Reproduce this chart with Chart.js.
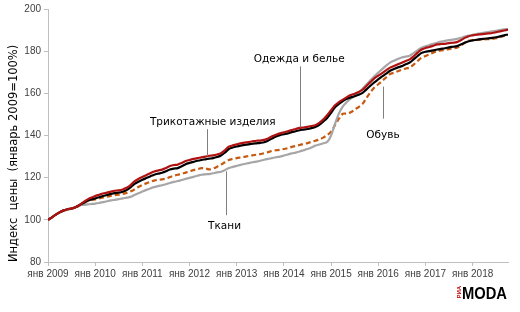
<!DOCTYPE html>
<html lang="ru">
<head>
<meta charset="utf-8">
<script src="https://cdn.jsdelivr.net/npm/chart.js@4/dist/chart.umd.min.js"></script>
<style>
  html, body { margin: 0; padding: 0; background: #ffffff; }
  #wrap { width: 520px; height: 312px; }
</style>
</head>
<body>
<div id="wrap"><canvas id="myChart" width="520" height="312"></canvas></div>
<script>
"use strict";

/* ****************************************************************************
    DATA (monthly index, Jan 2009 = 100, Jan 2009 .. Oct 2018)
**************************************************************************** */
var yearLabels = ["янв 2009", "янв 2010", "янв 2011", "янв 2012", "янв 2013",
  "янв 2014", "янв 2015", "янв 2016", "янв 2017", "янв 2018"];
var yTicks = [80, 100, 120, 140, 160, 180, 200];

// Одежда и белье (dark red)
var clothing = [
  100, 101.2, 102.5, 103.6, 104.5, 105.0, 105.4, 106.0, 107.0, 108.4, 109.6, 110.5,
  111.3, 111.9, 112.5, 112.9, 113.4, 113.8, 114.0, 114.4, 115.2, 116.5, 118.3, 119.4,
  120.3, 121.2, 122.1, 122.9, 123.4, 123.8, 124.6, 125.5, 126.0, 126.2, 127.0, 127.9,
  128.4, 128.9, 129.3, 129.6, 130.0, 130.4, 130.6, 131.0, 131.6, 133.0, 134.7, 135.3,
  135.8, 136.3, 136.6, 136.9, 137.2, 137.5, 137.6, 137.9, 138.6, 139.6, 140.4, 141.0,
  141.5, 142.0, 142.6, 143.1, 143.6, 143.8, 144.1, 144.5, 144.9, 146.0, 147.6, 149.6,
  152.0, 154.3, 155.8, 157.0, 158.2, 159.2, 159.8, 160.6, 161.7, 163.5, 165.3, 167.1,
  168.4, 169.6, 170.9, 172.2, 173.0, 173.8, 174.5, 175.3, 176.1, 177.6, 179.3, 180.8,
  181.5, 182.0, 182.6, 183.2, 183.4, 183.5, 183.8, 184.0, 184.3, 185.2, 186.3, 187.1,
  187.5, 187.8, 188.0, 188.2, 188.4, 188.6, 189.0, 189.4, 189.8, 190.2
];
// Трикотажные изделия (black)
var knitwear = [
  100, 101.2, 102.5, 103.6, 104.5, 105.0, 105.4, 106.0, 107.0, 108.0, 109.0, 109.7,
  110.2, 110.7, 111.3, 111.8, 112.3, 112.7, 112.9, 113.3, 114.1, 115.4, 117.1, 118.1,
  119.0, 119.8, 120.6, 121.4, 121.9, 122.3, 123.0, 123.9, 124.3, 124.5, 125.4, 126.4,
  127.0, 127.5, 128.0, 128.4, 128.7, 129.0, 129.3, 129.8, 130.5, 131.9, 133.6, 134.3,
  134.8, 135.2, 135.5, 135.8, 136.1, 136.3, 136.5, 136.8, 137.6, 138.6, 139.5, 140.2,
  140.6, 141.0, 141.6, 142.0, 142.5, 142.8, 143.1, 143.5, 144.0, 145.0, 146.6, 148.3,
  150.8, 153.4, 155.0, 156.3, 157.4, 158.1, 158.6, 159.3, 160.2, 161.9, 163.6, 165.2,
  166.6, 168.0, 169.3, 170.7, 171.5, 172.3, 172.9, 173.8, 174.6, 176.1, 177.7, 179.2,
  179.7, 180.0, 180.4, 180.8, 181.1, 181.4, 181.8, 182.1, 182.4, 183.2, 184.0, 184.7,
  185.1, 185.4, 185.7, 185.9, 186.1, 186.3, 186.6, 187.0, 187.5, 187.9
];
// Обувь (orange dashed)
var footwear = [
  100, 101.2, 102.5, 103.6, 104.4, 104.9, 105.3, 105.8, 106.8, 107.8, 108.8, 109.3,
  109.7, 110.1, 110.6, 111.0, 111.4, 111.7, 111.9, 112.3, 112.8, 113.5, 114.4, 115.6,
  116.5, 117.3, 118.0, 118.6, 119.0, 119.2, 119.6, 120.3, 120.9, 121.4, 121.8, 122.4,
  123.0, 123.6, 124.0, 124.5, 124.4, 123.9, 124.3, 125.2, 126.2, 127.3, 128.4, 128.9,
  129.3, 129.6, 129.9, 130.3, 130.6, 130.9, 131.2, 131.6, 132.1, 132.7, 133.0, 133.2,
  133.6, 134.0, 134.6, 135.0, 135.5, 136.0, 136.4, 137.0, 137.5, 138.1, 139.0, 140.2,
  141.8, 144.9, 148.0, 150.3, 150.4, 151.0, 152.3, 153.5, 155.0, 157.8, 160.5, 162.8,
  164.3, 165.9, 167.5, 169.1, 169.8, 170.5, 171.2, 171.8, 172.2, 173.6, 175.3, 176.9,
  177.7, 178.5, 179.3, 180.0, 180.3, 180.7, 181.0, 181.3, 181.6, 182.6, 184.0, 185.0,
  185.2, 185.3, 185.5, 185.6, 185.7, 185.8, 186.2, 186.7, 187.2, 187.6
];
// Ткани (grey)
var fabrics = [
  100, 101.2, 102.5, 103.6, 104.5, 105.0, 105.4, 106.0, 106.8, 107.1, 107.3, 107.5,
  107.7, 108.0, 108.4, 108.8, 109.2, 109.5, 109.8, 110.2, 110.5, 110.9, 111.8, 112.6,
  113.4, 114.2, 114.9, 115.5, 116.0, 116.4, 116.9, 117.5, 118.0, 118.4, 118.9, 119.4,
  119.9, 120.4, 120.9, 121.4, 121.6, 121.7, 122.1, 122.5, 122.8, 123.6, 124.6, 125.1,
  125.6, 126.1, 126.5, 126.9, 127.3, 127.6, 128.0, 128.5, 128.9, 129.3, 129.7, 130.0,
  130.5, 131.0, 131.5, 131.9, 132.4, 133.0, 133.6, 134.3, 135.2, 135.7, 136.3, 136.9,
  140.0, 145.5, 150.5, 153.8, 155.9, 157.5, 158.8, 160.4, 162.2, 164.2, 166.2, 168.1,
  169.8, 171.5, 173.1, 174.6, 175.5, 176.3, 177.0, 177.4, 177.8, 179.1, 180.4, 181.6,
  182.3, 182.9, 183.5, 184.0, 184.5, 184.9, 185.2, 185.5, 185.8, 186.3, 186.9, 187.4,
  187.8, 188.1, 188.5, 188.8, 189.1, 189.4, 189.7, 190.0, 190.3, 190.5
];

/* ****************************************************************************
    CALLOUTS (label text + leader line, in data units: month index / index value)
**************************************************************************** */
var callouts = [
  { text: "Одежда и белье", tx: 63.9, ty: 176.1, lx: 64.0, y1: 172.8, y2: 143.8 },
  { text: "Трикотажные изделия", tx: 41.9, ty: 146.1, lx: 40.4, y1: 143.0, y2: 130.2 },
  { text: "Обувь", tx: 85.2, ty: 139.9, lx: 85.3, y1: 163.2, y2: 148.0 },
  { text: "Ткани", tx: 44.9, ty: 96.9, lx: 45.2, y1: 123.0, y2: 102.2 }
];

/* ****************************************************************************
    HELPERS
**************************************************************************** */

/**
 * Turn a monthly array into {x, y} points for a linear x axis.
 */
function toPoints(values) {
  return values.map(function (v, i) { return { x: i, y: v }; });
}

/**
 * Build one line dataset.
 */
function makeSet(label, values, color, dash) {
  return {
    label: label,
    data: toPoints(values),
    borderColor: color,
    backgroundColor: color,
    borderWidth: 2.2,
    borderDash: dash,
    pointRadius: 0,
    tension: 0.3,
    fill: false
  };
}

// draws the callout labels and their thin leader lines
var calloutPlugin = {
  id: "callouts",
  afterDatasetsDraw: function (chart) {
    var ctx = chart.ctx;
    var xs = chart.scales.x;
    var ys = chart.scales.y;
    ctx.save();
    ctx.strokeStyle = "#7f7f7f";
    ctx.lineWidth = 1;
    ctx.font = "10.5px 'DejaVu Sans'";
    ctx.fillStyle = "#000000";
    ctx.textAlign = "center";
    ctx.textBaseline = "middle";
    callouts.forEach(function (c) {
      var lx = Math.round(xs.getPixelForValue(c.lx)) + 0.5;
      ctx.beginPath();
      ctx.moveTo(lx, ys.getPixelForValue(c.y1));
      ctx.lineTo(lx, ys.getPixelForValue(c.y2));
      ctx.stroke();
      ctx.fillText(c.text, xs.getPixelForValue(c.tx), ys.getPixelForValue(c.ty));
    });
    ctx.restore();
  }
};

// the small "РИА MODA" mark in the bottom right corner
var logoPlugin = {
  id: "logo",
  afterDraw: function (chart) {
    var ctx = chart.ctx;
    ctx.save();
    ctx.fillStyle = "#000000";
    ctx.font = "bold 16px 'Liberation Sans'";
    ctx.textBaseline = "alphabetic";
    var w = ctx.measureText("MODA").width;
    ctx.translate(462, 298.5);
    ctx.scale(45 / w, 1);
    ctx.fillText("MODA", 0, 0);
    ctx.restore();
    ctx.save();
    ctx.fillStyle = "#c00000";
    ctx.font = "bold 6px 'Liberation Sans'";
    ctx.translate(461, 298.5);
    ctx.rotate(-Math.PI / 2);
    ctx.fillText("РИА", 0, 0);
    ctx.restore();
  }
};

/* ****************************************************************************
    CHART
**************************************************************************** */
function renderChart() {
  var data = {
    datasets: [
      makeSet("Одежда и белье", clothing, "#b01212", []),
      makeSet("Трикотажные изделия", knitwear, "#000000", []),
      makeSet("Ткани", fabrics, "#a6a6a6", []),
      makeSet("Обувь", footwear, "#c55a11", [5, 3])
    ]
  };

  var tickFont = { family: "'Liberation Sans'", size: 10 };

  var config = {
    type: "line",
    data: data,
    options: {
      responsive: false,
      animation: false,
      devicePixelRatio: 1,
      layout: { padding: { left: 0, right: 12, top: 6, bottom: 0 } },
      plugins: {
        legend: { display: false },
        tooltip: { enabled: false }
      },
      scales: {
        x: {
          type: "linear",
          min: 0,
          max: 117,
          afterFit: function (scale) { scale.height = 50; },
          border: { display: true, color: "#bfbfbf", width: 1 },
          grid: { drawOnChartArea: false, drawTicks: true, tickLength: 4, color: "#bfbfbf" },
          ticks: {
            stepSize: 12,
            includeBounds: false,
            autoSkip: false,
            maxRotation: 0,
            padding: 2,
            color: "#404040",
            font: tickFont,
            callback: function (v) { return yearLabels[v / 12] || ""; }
          }
        },
        y: {
          min: yTicks[0],
          max: yTicks[yTicks.length - 1],
          afterFit: function (scale) { scale.width = 48; },
          border: { display: true, color: "#bfbfbf", width: 1 },
          grid: { drawOnChartArea: false, drawTicks: true, tickLength: 4, color: "#bfbfbf" },
          ticks: { stepSize: 20, padding: 3, color: "#404040", font: tickFont },
          title: {
            display: true,
            text: "Индекс  цены  (январь 2009=100%)",
            align: "start",
            color: "#000000",
            font: { family: "'DejaVu Sans'", size: 11.5 },
            padding: { top: 7, bottom: 0 }
          }
        }
      }
    },
    plugins: [calloutPlugin, logoPlugin]
  };

  var canvasChart = document.getElementById("myChart");
  new Chart(canvasChart, config);
}

renderChart();
</script>
</body>
</html>
